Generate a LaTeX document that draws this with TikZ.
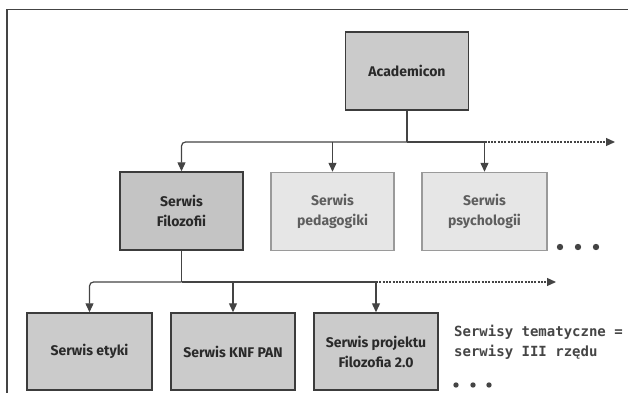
\documentclass[tikz,border=0pt]{standalone}
\usepackage{fontspec}
\setmainfont{Fira Sans}
\newfontfamily\monof{DejaVu Sans Mono}
\usetikzlibrary{arrows.meta}
\definecolor{linec}{HTML}{444444}
\definecolor{boxdark}{HTML}{3C3C3C}
\definecolor{boxlight}{HTML}{9A9A9A}
\definecolor{fillA}{HTML}{CBCBCB}
\definecolor{fillF}{HTML}{C4C4C4}
\definecolor{fillL}{HTML}{E6E6E6}
\definecolor{txtdark}{HTML}{2A2A2A}
\definecolor{txtlight}{HTML}{5E5E5E}
\definecolor{monoc}{HTML}{454545}
\begin{document}
\begin{tikzpicture}[x=1pt,y=-1pt,
  darkbox/.style={draw=boxdark, line width=1.4pt, fill=fillA, minimum width=123pt,
    minimum height=78pt, inner sep=0pt, align=center, text=txtdark,
    font=\bfseries\fontsize{14}{20}\selectfont},
  lightbox/.style={darkbox, draw=boxlight, fill=fillL, text=txtlight},
  conn/.style={draw=linec, line width=1.2pt},
  arr/.style={conn, -{Triangle[length=9pt,width=8pt]}},
  dotline/.style={conn, dash pattern=on 2pt off 1.3pt},
  bigdot/.style={circle, fill=linec, inner sep=0pt, minimum size=6.4pt},
  smalldot/.style={circle, fill=linec, inner sep=0pt, minimum size=5.4pt}
]
\useasboundingbox (0,0) rectangle (632,393);
% frame
\draw[line width=1.5pt, draw=linec] (7,393) -- (7,9.5) -- (628,9.5);

% nodes
\node[darkbox] (acad) at (407,71) {Academicon};
\node[darkbox, fill=fillF] (filo) at (181.5,211) {Serwis\\Filozofii};
\node[lightbox] (peda) at (332.5,211.5) {Serwis\\pedagogiki};
\node[lightbox, minimum width=125pt] (psych) at (484.5,211.5) {Serwis\\psychologii};
\node[darkbox, minimum width=125pt, minimum height=77pt] (ety) at (89.5,351.5) {Serwis etyki};
\node[darkbox, minimum width=124pt, minimum height=77pt] (knf) at (233,351.5) {Serwis KNF PAN};
\node[darkbox, minimum width=124pt, minimum height=77pt] (proj) at (376,351.5) {Serwis projektu\\Filozofia 2.0};

\node[anchor=west, align=left, inner sep=0pt, text=monoc,
  font=\monof\bfseries\fontsize{14}{20}\selectfont] (note) at (454,342)
  {Serwisy tematyczne =\\serwisy III rzędu};

\node[bigdot] (d1) at (560,247) {};
\node[bigdot] (d2) at (578,247) {};
\node[bigdot] (d3) at (596,247) {};
\node[smalldot] (d4) at (456,385) {};
\node[smalldot] (d5) at (473,385) {};
\node[smalldot] (d6) at (489,385) {};

% first level connectors
\coordinate (j1) at (407,142);
\coordinate (e1) at (615,142);
\draw[conn] (acad.south) -- (j1);
\draw[arr, rounded corners=4pt] (j1) -| (filo.north);
\draw[conn] (j1) -- (psych.north |- j1);
\draw[arr] (peda.north |- j1) -- (peda.north);
\draw[arr] (psych.north |- j1) -- (psych.north);
\draw[dotline, -{Triangle[length=9pt,width=8pt]}] (psych.north |- j1) -- (e1);

% second level connectors
\coordinate (j2) at (181.5,282);
\coordinate (e2) at (556,282);
\draw[conn] (filo.south) -- (j2);
\draw[arr, rounded corners=4pt] (j2) -| (ety.north);
\draw[conn] (j2) -- (proj.north |- j2);
\draw[arr] (knf.north |- j2) -- (knf.north);
\draw[arr] (proj.north |- j2) -- (proj.north);
\draw[dotline, -{Triangle[length=9pt,width=8pt]}] (proj.north |- j2) -- (e2);
\end{tikzpicture}
\end{document}
